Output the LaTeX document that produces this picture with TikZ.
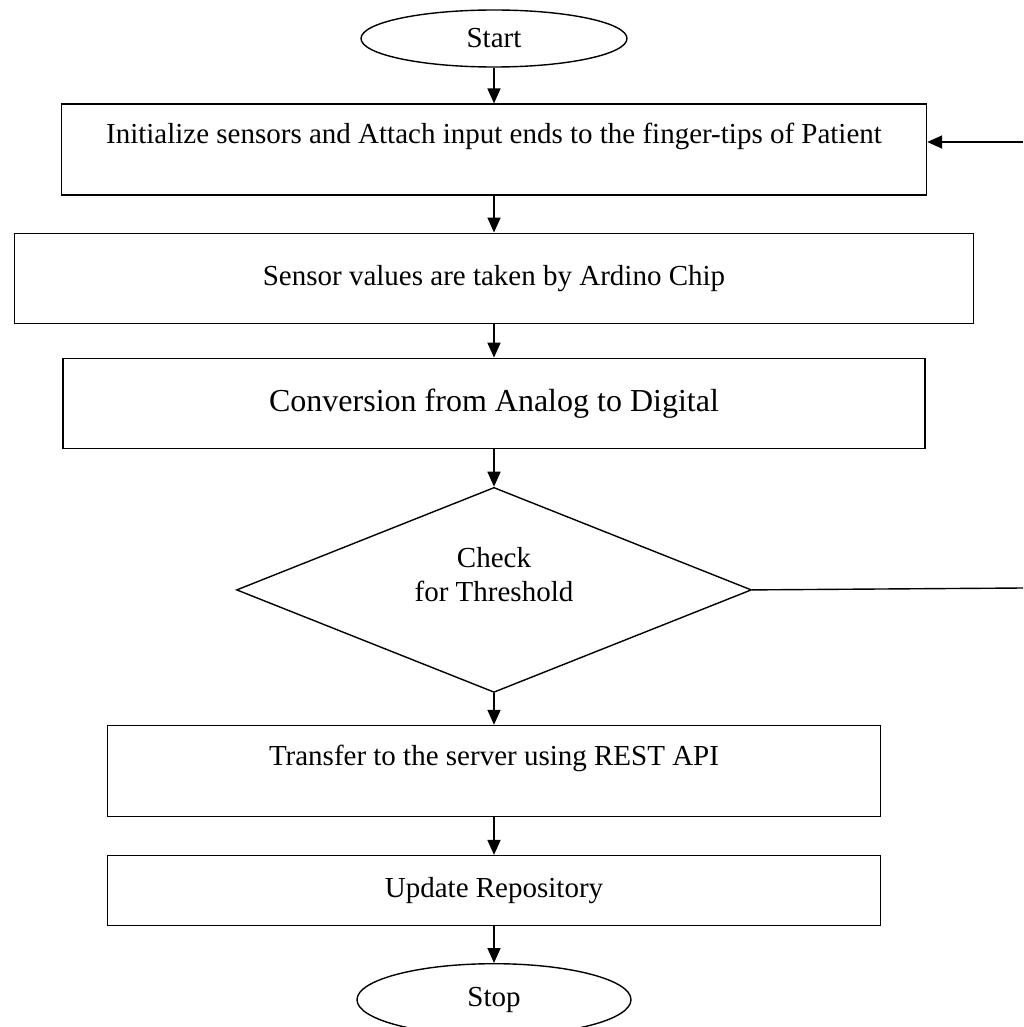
\documentclass[tikz,border=0pt]{standalone}
\usepackage{fontspec}
\setmainfont{Liberation Serif}
\usepackage{tikz}
\tikzset{
    process/.style={draw, rectangle, line width=1.4pt, inner sep=0pt, font=\fontsize{29}{34}\selectfont},
    terminal/.style={draw, ellipse, line width=1.4pt, inner sep=0pt, font=\fontsize{29}{34}\selectfont},
    decision/.style={draw, diamond, aspect=2.5, line width=1.4pt, inner sep=0pt, align=center, font=\fontsize{29}{34}\selectfont},
    toptext/.style={text height=20pt, text depth=32pt},
    flow/.style = {-{Triangle[length=15pt,width=13pt]}, line width=1.7pt},
    loopline/.style = {line width=1.4pt} }
\usetikzlibrary{arrows.meta, positioning, shapes.geometric}

\begin{document}
\begin{tikzpicture}[x=1pt, y=-1pt]
    \useasboundingbox (0,0) rectangle (1023,1027);
    \node[terminal, minimum width=266pt, minimum height=57pt] (start) at (494,38.5) {Start};
    \node[process, toptext, below=35.7pt of start, minimum width=865pt, minimum height=91pt] (init) {Initialize sensors and Attach input ends to the finger-tips of Patient};
    \node[process, below=36.7pt of init, minimum width=959pt, minimum height=90pt] (read) {Sensor values are taken by Ardino Chip};
    \node[process, below=33.7pt of read, minimum width=862pt, minimum height=90pt, font=\fontsize{32}{38}\selectfont] (adc) {Conversion from Analog to Digital};
    \node[decision, text depth=30pt, below=37.7pt of adc, minimum width=515pt, minimum height=205pt] (check) {Check\\for Threshold};
    \node[process, toptext, below=31.7pt of check, minimum width=773pt, minimum height=91pt] (send) {Transfer to the server using REST API};
    \node[process, below=37.7pt of send, minimum width=773pt, minimum height=70pt] (update) {Update Repository};
    \node[terminal, below=36.7pt of update, minimum width=274pt, minimum height=72pt] (stop) {Stop};
    \coordinate (back) at (1023,142);
    \coordinate (out) at (1023,588);
    % ----
    \path[flow]
        (start) edge (init)
        (init) edge (read)
        (read) edge (adc)
        (adc) edge (check)
        (check) edge (send)
        (send) edge (update)
        (update) edge (stop)
        (back) edge (back -| init.east);
    \draw[loopline] (check.east) -- (out);
\end{tikzpicture}
\end{document}
